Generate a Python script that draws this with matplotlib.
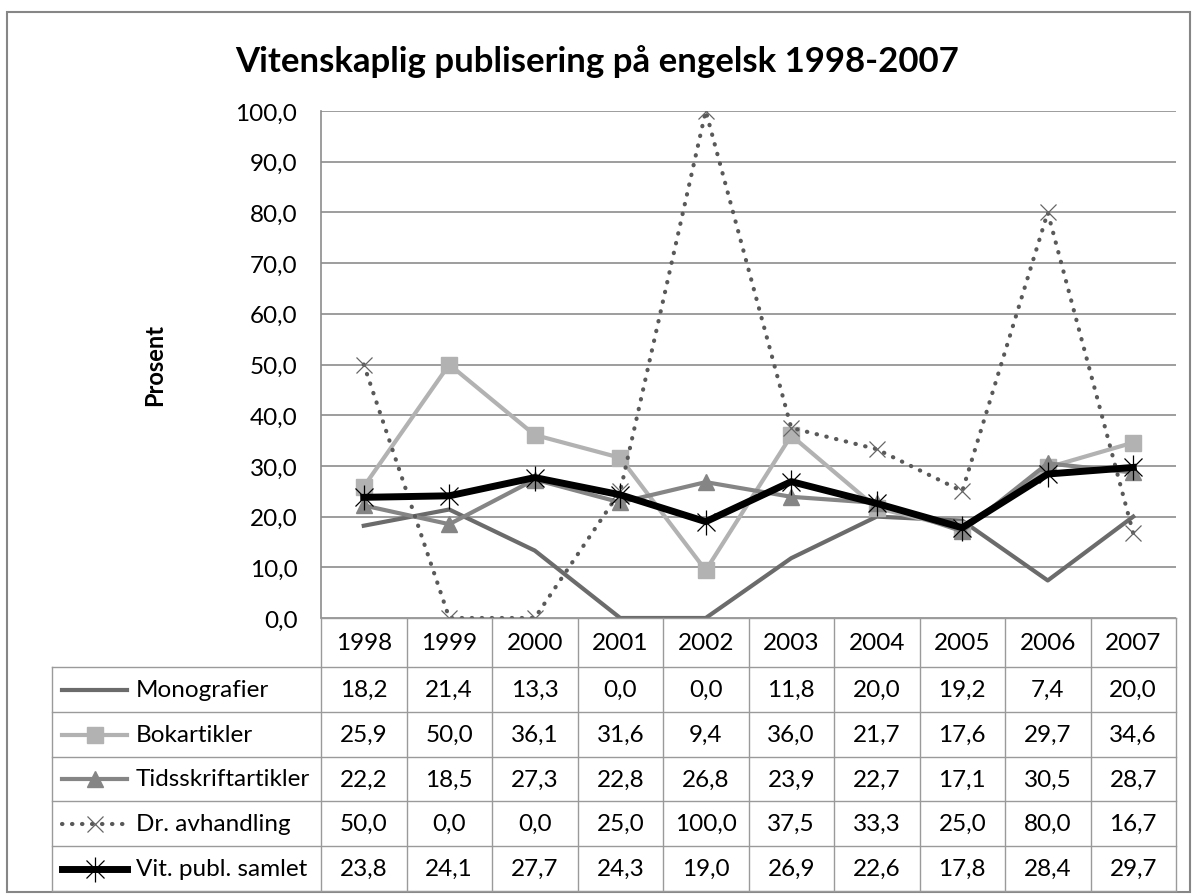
import numpy as np
import matplotlib
matplotlib.use('Agg')
import matplotlib.pyplot as plt

plt.rcParams['font.family'] = ['Lato', 'DejaVu Sans']

years = ['1998', '1999', '2000', '2001', '2002', '2003', '2004', '2005', '2006', '2007']
monografier = [18.2, 21.4, 13.3, 0.0, 0.0, 11.8, 20.0, 19.2, 7.4, 20.0]
bokartikler = [25.9, 50.0, 36.1, 31.6, 9.4, 36.0, 21.7, 17.6, 29.7, 34.6]
tidsskrift = [22.2, 18.5, 27.3, 22.8, 26.8, 23.9, 22.7, 17.1, 30.5, 28.7]
dr_avh = [50.0, 0.0, 0.0, 25.0, 100.0, 37.5, 33.3, 25.0, 80.0, 16.7]
samlet = [23.8, 24.1, 27.7, 24.3, 19.0, 26.9, 22.6, 17.8, 28.4, 29.7]
names = ['Monografier', 'Bokartikler', 'Tidsskriftartikler', 'Dr. avhandling', 'Vit. publ. samlet']

W, H = 1193, 895
fig = plt.figure(figsize=(W / 100, H / 100), dpi=100)
fs = 17.5

# pixel layout
L, R, T, B = 321, 1176, 112, 619
ax = fig.add_axes([L / W, 1 - B / H, (R - L) / W, (B - T) / H])
x = np.arange(len(years))

grid_c = '#8c8c8c'
styles = [
    dict(color='#6b6b6b', lw=3.0, marker=None),
    dict(color='#b2b2b2', lw=3.0, marker='s', ms=11, mec='#b2b2b2', mfc='#b2b2b2'),
    dict(color='#858585', lw=3.0, marker='^', ms=12, mec='#858585', mfc='#858585'),
    dict(color='#595959', lw=3.0, ls=(0, (0.1, 2.3)), dash_capstyle='round', marker='x', ms=12, mew=0.9, mec='#666666'),
    dict(color='black', lw=5.0, marker=None),
]
series = [monografier, bokartikler, tidsskrift, dr_avh, samlet]

for vals, st in zip(series, styles):
    ax.plot(x, vals, **st, zorder=3)
# star marker for samlet: x plus vertical bar
ax.plot(x, samlet, ls='none', marker='x', ms=13, mew=0.9, color='black', zorder=4)
ax.plot(x, samlet, ls='none', marker='|', ms=18, mew=0.9, color='black', zorder=4)

ax.set_xlim(-0.5, len(years) - 0.5)
ax.set_ylim(0, 100)
ax.set_yticks(np.arange(0, 101, 10))
ax.set_yticklabels([f'{v:.1f}'.replace('.', ',') for v in np.arange(0, 101, 10)], fontsize=fs)
ax.tick_params(axis='y', length=0, pad=17)
ax.set_xticks([])
ax.grid(axis='y', color=grid_c, lw=1.2)
ax.set_axisbelow(True)
for s in ['top', 'right', 'bottom']:
    ax.spines[s].set_visible(False)
ax.spines['left'].set_color(grid_c)
ax.spines['left'].set_linewidth(1.2)
ax.set_ylabel('Prosent', fontsize=17, fontweight='bold', labelpad=50)

# overlay in pixel coordinates for title, table and frame
ov = fig.add_axes([0, 0, 1, 1], zorder=-1)
ov.set_xlim(0, W)
ov.set_ylim(H, 0)
ov.axis('off')
ov2 = fig.add_axes([0, 0, 1, 1], zorder=5)
ov2.set_xlim(0, W)
ov2.set_ylim(H, 0)
ov2.axis('off')
ov2.patch.set_alpha(0)

ov.add_patch(plt.Rectangle((7, 13), 1183, 880, fill=False, ec='#868686', lw=1.5))
ov2.text(597, 62, 'Vitenskaplig publisering på engelsk 1998-2007', ha='center', va='center',
         fontsize=25, fontweight='bold')

colw = (R - L) / len(years)
rows = [619, 668, 713, 758, 802, 847, 892]
tc = '#9a9a9a'
ov2.plot([L, R], [rows[0], rows[0]], color=tc, lw=1)
for yy in rows[1:]:
    ov2.plot([52, R], [yy, yy], color=tc, lw=1)
for k in range(len(years) + 1):
    ov2.plot([L + k * colw] * 2, [rows[0], rows[-1]], color=tc, lw=1)
ov2.plot([52, 52], [rows[1], rows[-1]], color=tc, lw=1)

for k, yr in enumerate(years):
    ov2.text(L + (k + 0.5) * colw, (rows[0] + rows[1]) / 2, yr, ha='center', va='center', fontsize=fs)

for i, (vals, st, nm) in enumerate(zip(series, styles, names)):
    yc = (rows[i + 1] + rows[i + 2]) / 2
    for k, v in enumerate(vals):
        ov2.text(L + (k + 0.5) * colw, yc, f'{v:.1f}'.replace('.', ','), ha='center', va='center', fontsize=fs)
    ov2.text(136, yc, nm, ha='left', va='center', fontsize=fs)
    ov2.plot([62, 127], [yc, yc], **{k2: v2 for k2, v2 in st.items() if k2 != 'marker'}, zorder=3)
    if st.get('marker'):
        ov2.plot([94.5], [yc], ls='none', marker=st['marker'], ms=st.get('ms', 10),
                 mec=st.get('mec'), mfc=st.get('mfc', 'none'), mew=st.get('mew', 1), zorder=4)
    if i == 4:
        ov2.plot([94.5], [yc], ls='none', marker='x', ms=13, mew=0.9, color='black', zorder=4)
        ov2.plot([94.5], [yc], ls='none', marker='|', ms=18, mew=0.9, color='black', zorder=4)

fig.savefig('out.png', dpi=100)
